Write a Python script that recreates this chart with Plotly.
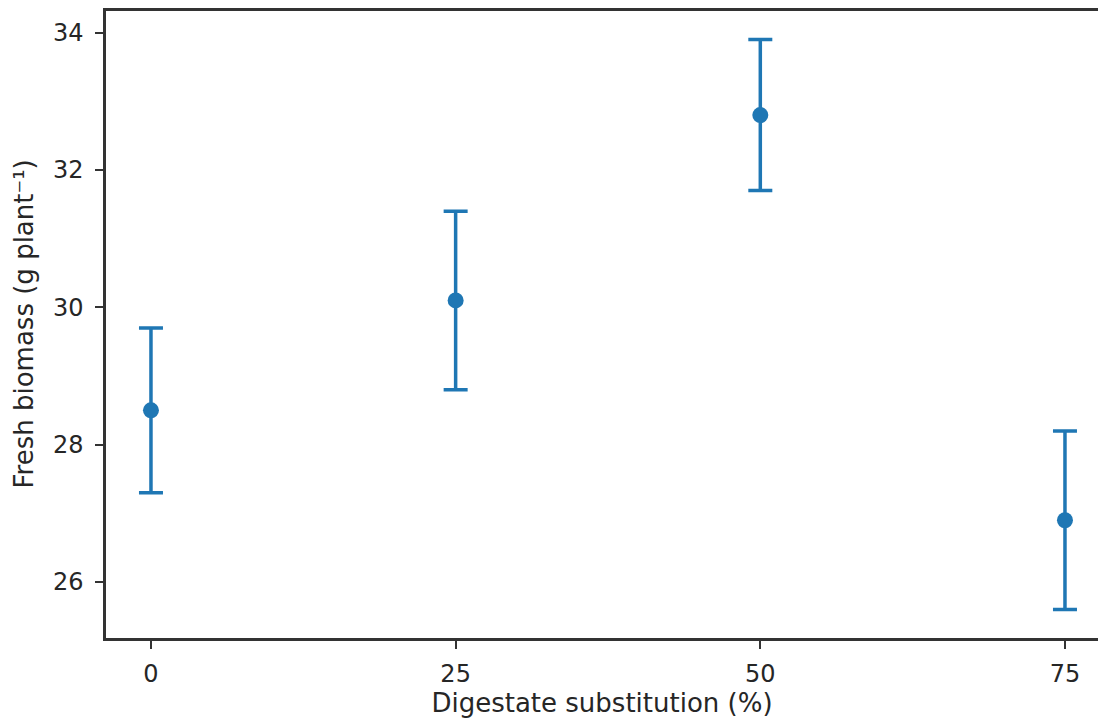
import plotly.graph_objects as go

substitution = [0, 25, 50, 75]
biomass = [28.5, 30.1, 32.8, 26.9]
biomass_err = [1.2, 1.3, 1.1, 1.3]

x_ticks = [0, 25, 50, 75]
y_ticks = [26, 28, 30, 32, 34]

blue = "#1f77b4"
axis_col = "#333333"
font = "DejaVu Sans"

fig = go.Figure()
fig.add_trace(go.Scatter(
    x=substitution, y=biomass, mode="markers",
    marker=dict(color=blue, size=16, symbol="circle"),
    error_y=dict(type="data", array=biomass_err, visible=True,
                 color=blue, thickness=3.5, width=12),
    showlegend=False,
))

fig.add_annotation(
    text="Fresh biomass (g plant⁻¹)", textangle=-90,
    xref="paper", yref="paper", x=0, y=0.5, xanchor="center", yanchor="middle",
    xshift=-83, showarrow=False, font=dict(size=26, color="#262626"),
)

fig.update_layout(
    width=1098, height=719,
    margin=dict(l=106, r=0, t=11, b=81),
    paper_bgcolor="white", plot_bgcolor="white",
    font=dict(family=font, size=22, color="#262626"),
    xaxis=dict(
        range=[-3.69, 77.71], tickvals=x_ticks, ticktext=[str(v) for v in x_ticks],
        showgrid=False, zeroline=False, showline=True, mirror=True,
        linecolor=axis_col, linewidth=2.5,
        ticks="outside", ticklen=8, tickwidth=2, tickcolor=axis_col,
        tickfont=dict(size=24), ticklabelstandoff=4,
        title=dict(text="Digestate substitution (%)", standoff=6, font=dict(size=26)),
    ),
    yaxis=dict(
        range=[25.185, 34.315], tickvals=y_ticks, ticktext=[str(v) for v in y_ticks],
        showgrid=False, zeroline=False, showline=True, mirror=False,
        linecolor=axis_col, linewidth=2.5,
        ticks="outside", ticklen=8, tickwidth=2, tickcolor=axis_col,
        tickfont=dict(size=24), ticklabelstandoff=7,
    ),
)

fig.write_html(
    "out.html",
    config={"displayModeBar": False},
    post_script="document.body.style.margin='0';document.body.style.overflow='hidden';",
)
